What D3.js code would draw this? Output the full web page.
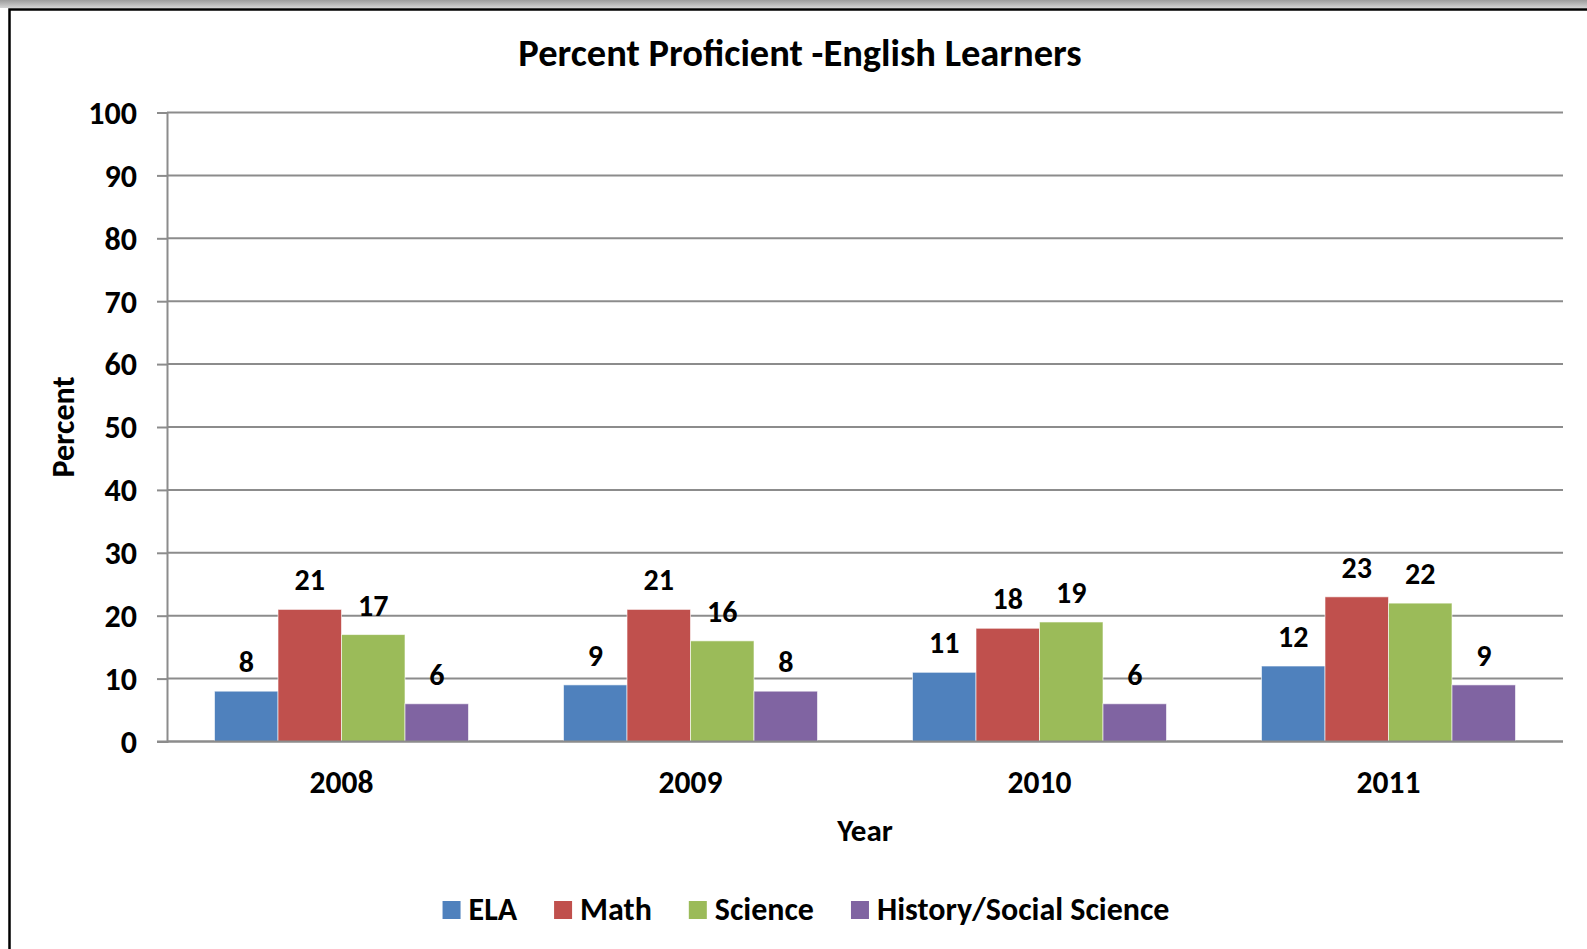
<!DOCTYPE html>
<html>
<head>
<meta charset="utf-8">
<script src="https://cdn.jsdelivr.net/npm/d3@7"></script>
<style>
  html, body { margin: 0; padding: 0; background: #fff; }
  svg { display: block; }
  text { font-family: Carlito, Lato, "Open Sans", sans-serif; font-weight: bold; fill: #000; }
</style>
</head>
<body>
<div id="chart"></div>
<script>
// Chart data
const years = ['2008', '2009', '2010', '2011'];
const series = ['ELA', 'Math', 'Science', 'History/Social Science'];
const ela = [8, 9, 11, 12];
const math = [21, 21, 18, 23];
const science = [17, 16, 19, 22];
const history = [6, 8, 6, 9];
const yTicks = [0, 10, 20, 30, 40, 50, 60, 70, 80, 90, 100];
const colors = ['#4f81bd', '#c0504d', '#9bbb59', '#8064a2'];

const values = [ela, math, science, history];

const width = 1587;
const height = 949;
const margin = { top: 112.5, right: 24, bottom: 207.5, left: 167 };

const svg = d3.select('#chart')
    .append('svg')
    .attr('width', width)
    .attr('height', height);

// Window frame: grey strip on top, black border left/top
const grad = svg.append('defs').append('linearGradient')
    .attr('id', 'topStrip')
    .attr('x1', 0).attr('y1', 0).attr('x2', 0).attr('y2', 1);
grad.append('stop').attr('offset', '0%').attr('stop-color', '#9c9c9c');
grad.append('stop').attr('offset', '100%').attr('stop-color', '#d4d4d4');

svg.append('rect')
    .attr('x', 0).attr('y', 0)
    .attr('width', width).attr('height', 8)
    .attr('fill', 'url(#topStrip)');

svg.append('path')
    .attr('d', `M9.5,${height} V9.5 H${width}`)
    .attr('fill', 'none')
    .attr('stroke', '#000')
    .attr('stroke-width', 2.5);

// Scales
const x0 = d3.scaleBand()
    .domain(years)
    .range([margin.left, width - margin.right])
    .padding(0);

const groupGap = 95;
const x1 = d3.scaleBand()
    .domain(series)
    .range([groupGap / 2, x0.bandwidth() - groupGap / 2])
    .padding(0);

const y = d3.scaleLinear()
    .domain([0, 100])
    .range([height - margin.bottom, margin.top]);

// Gridlines
svg.append('g')
    .selectAll('line')
    .data(yTicks)
    .enter()
    .append('line')
    .attr('x1', margin.left)
    .attr('x2', width - margin.right)
    .attr('y1', d => y(d))
    .attr('y2', d => y(d))
    .attr('stroke', '#8c8c8c')
    .attr('stroke-width', 2);

// Y axis
const yAxis = svg.append('g')
    .attr('transform', `translate(${margin.left},0)`)
    .call(d3.axisLeft(y).tickValues(yTicks).tickSize(10).tickPadding(20).tickFormat(d3.format('d')));

yAxis.select('.domain').attr('stroke', '#8c8c8c').attr('stroke-width', 2);
yAxis.selectAll('.tick line').attr('stroke', '#8c8c8c').attr('stroke-width', 2);
yAxis.selectAll('.tick text')
    .attr('font-size', 32)
    .attr('dy', '0.34em')
    .attr('fill', '#000');

// Bars
const groups = svg.append('g')
    .selectAll('g')
    .data(years)
    .enter()
    .append('g')
    .attr('transform', d => `translate(${x0(d)},0)`);

const barData = (yr, i) => series.map((s, j) => ({ series: s, value: values[j][i], color: colors[j] }));

groups.selectAll('rect')
    .data(barData)
    .enter()
    .append('rect')
    .attr('x', d => x1(d.series))
    .attr('y', d => y(d.value))
    .attr('width', x1.bandwidth())
    .attr('height', d => y(0) - y(d.value))
    .attr('fill', d => d.color)
    .attr('stroke', 'rgba(255,255,255,0.6)')
    .attr('stroke-width', 1);

// Value labels
groups.selectAll('text')
    .data(barData)
    .enter()
    .append('text')
    .attr('x', d => x1(d.series) + x1.bandwidth() / 2)
    .attr('y', d => y(d.value) - 19)
    .attr('text-anchor', 'middle')
    .attr('font-size', 30)
    .text(d => d.value);

// Zero line on top of bars
svg.append('line')
    .attr('x1', margin.left - 10)
    .attr('x2', width - margin.right)
    .attr('y1', y(0))
    .attr('y2', y(0))
    .attr('stroke', '#8c8c8c')
    .attr('stroke-width', 2);

// X tick labels
svg.append('g')
    .selectAll('text')
    .data(years)
    .enter()
    .append('text')
    .attr('x', d => x0(d) + x0.bandwidth() / 2)
    .attr('y', 793)
    .attr('text-anchor', 'middle')
    .attr('font-size', 31.5)
    .text(d => d);

// Titles
svg.append('text')
    .attr('x', 800)
    .attr('y', 66)
    .attr('text-anchor', 'middle')
    .attr('font-size', 38.5)
    .text('Percent Proficient -English Learners');

svg.append('text')
    .attr('x', (margin.left + width - margin.right) / 2)
    .attr('y', 841)
    .attr('text-anchor', 'middle')
    .attr('font-size', 31)
    .text('Year');

svg.append('text')
    .attr('transform', `translate(74,${(y(0) + y(100)) / 2}) rotate(-90)`)
    .attr('text-anchor', 'middle')
    .attr('font-size', 32)
    .text('Percent');

// Legend
const legend = svg.append('g');
const items = legend.selectAll('g')
    .data(series)
    .enter()
    .append('g');

items.append('rect')
    .attr('width', 18)
    .attr('height', 18)
    .attr('y', 901)
    .attr('fill', (d, i) => colors[i]);

items.append('text')
    .attr('x', 26)
    .attr('y', 920)
    .attr('font-size', 32)
    .text(d => d);

let offset = 0;
const spacing = 37;
items.each(function () {
    const w = 26 + d3.select(this).select('text').node().getComputedTextLength();
    d3.select(this).attr('data-x', offset);
    offset += w + spacing;
});
const total = offset - spacing;
const start = 806 - total / 2;
items.attr('transform', function () {
    return `translate(${start + (+d3.select(this).attr('data-x'))},0)`;
});
</script>
</body>
</html>
